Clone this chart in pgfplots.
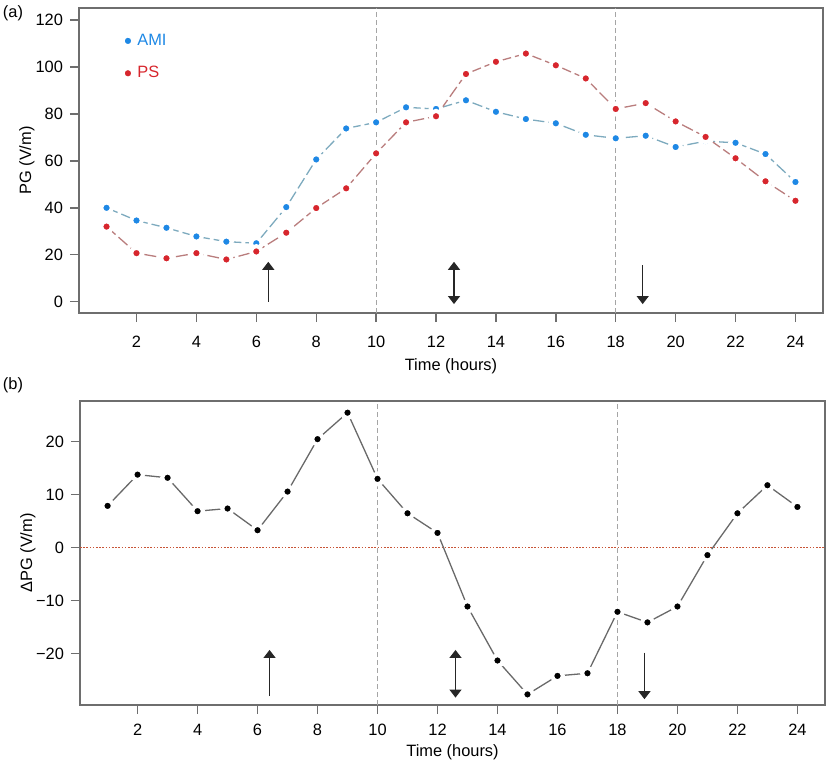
\documentclass[border=0pt]{standalone}
\usepackage{pgfplots}
\pgfplotsset{compat=1.18}
\usepackage{fontspec}
\setmainfont{Liberation Sans}
\usetikzlibrary{arrows.meta}
\definecolor{amiblue}{RGB}{30,136,229}
\definecolor{amiline}{RGB}{125,170,190}
\definecolor{psred}{RGB}{215,38,45}
\definecolor{psline}{RGB}{185,125,125}
\definecolor{vgray}{RGB}{165,165,165}
\definecolor{frame}{RGB}{110,110,110}
\definecolor{zeroc}{RGB}{200,85,55}
\definecolor{dline}{RGB}{105,105,105}
\newcommand{\fs}{\fontsize{8.2}{9.8}\selectfont}
\pgfplotsset{
  common/.style={
    scale only axis,
    xmin=0.08, xmax=24.92,
    xtick={2,4,...,24},
    xtick pos=bottom, ytick pos=left,
    tick align=outside,
    major tick length=4.5pt,
    axis line style={draw=frame, line width=0.7pt},
    tick style={draw=frame, line width=0.7pt},
    tick label style={font=\fs},
    label style={font=\fs},
    /pgf/number format/assume math mode=true,
    ylabel style={at={(axis description cs:-0.07,0.5)}, anchor=center},
  },
}
\tikzset{
  vline/.style={vgray, line width=0.6pt, dash pattern=on 2.5pt off 1.5pt},
  arr/.style={black!85, line width=0.6pt},
}
\begin{document}
\begin{tikzpicture}
\path[use as bounding box] (0,0) rectangle (414.5pt,-381pt);
\node[font=\fs] at (6.5pt,-6.5pt) {(a)};
\node[font=\fs] at (6.5pt,-192.5pt) {(b)};
% Panel (a)
\begin{axis}[common,
  at={(39.5pt,-4pt)}, anchor=north west,
  width=372pt, height=152.5pt,
  ymin=-4.8, ymax=125.1,
  ytick={0,20,...,120},
  xticklabel style={yshift=-3.5pt},
  ylabel={PG (V/m)},
  xlabel={Time (hours)},
  xlabel style={at={(axis description cs:0.5,0)}, anchor=center, yshift=-26.5pt},
  legend style={draw=none, fill=none, at={(axis description cs:0.058,0.93)}, anchor=north west, font=\fs, row sep=5pt, inner sep=0pt},
  legend cell align=left,
  legend image code/.code={\draw[#1] plot coordinates {(0pt,0pt)};},
]
\draw[vline] (axis cs:10,-4.8) -- (axis cs:10,125.1);
\draw[vline] (axis cs:18,-4.8) -- (axis cs:18,125.1);
\addplot[color=amiline, line width=0.65pt, dash pattern=on 6pt off 2pt, mark=*, mark size=2.7pt,
  mark options={solid, fill=amiblue, draw=white, line width=2pt}] coordinates {
(1,40.0) (2,34.6) (3,31.5) (4,27.8) (5,25.6) (6,24.9) (7,40.3) (8,60.6) (9,73.8) (10,76.4) (11,82.8) (12,82.1)
(13,85.8) (14,80.9) (15,77.8) (16,76.0) (17,71.1) (18,69.6) (19,70.7) (20,65.9) (21,68.4) (22,67.7) (23,62.9) (24,51.0)};
\addlegendentry{\textcolor{amiblue}{AMI}}
\addplot[color=psline, line width=0.65pt, dash pattern=on 6pt off 2pt, mark=*, mark size=2.7pt,
  mark options={solid, fill=psred, draw=white, line width=2pt}] coordinates {
(1,32.0) (2,20.7) (3,18.5) (4,20.7) (5,18.0) (6,21.4) (7,29.4) (8,39.9) (9,48.3) (10,63.2) (11,76.4) (12,79.0)
(13,97.0) (14,102.2) (15,105.7) (16,100.7) (17,95.1) (18,82.1) (19,84.6) (20,76.8) (21,70.2) (22,61.1) (23,51.3) (24,43.0)};
\addlegendentry{\textcolor{psred}{PS}}
\draw[arr, -{Triangle[width=6pt,length=4pt]}] (axis cs:6.4,0) -- (axis cs:6.4,17);
\draw[arr, {Triangle[width=6pt,length=4pt]}-{Triangle[width=6pt,length=4pt]}] (axis cs:12.6,-1) -- (axis cs:12.6,17);
\draw[arr, -{Triangle[width=6pt,length=4pt]}] (axis cs:18.9,15.5) -- (axis cs:18.9,-1);
\end{axis}
% Panel (b)
\begin{axis}[common,
  at={(40pt,-200.5pt)}, anchor=north west,
  width=372.5pt, height=152pt,
  ymin=-29.7, ymax=27.7,
  ytick={-20,-10,0,10,20},
  yticklabels={−20,−10,0,10,20},
  xticklabel style={yshift=-1.5pt},
  ylabel={ΔPG (V/m)},
  xlabel={Time (hours)},
  xlabel style={at={(axis description cs:0.5,0)}, anchor=center, yshift=-23.5pt},
]
\draw[vline] (axis cs:10,-29.7) -- (axis cs:10,27.7);
\draw[vline] (axis cs:18,-29.7) -- (axis cs:18,27.7);
\draw[zeroc, line width=0.75pt, dash pattern=on 0.8pt off 0.8pt] (axis cs:0.08,0) -- (axis cs:24.92,0);
\addplot[color=dline, line width=0.65pt, mark=*, mark size=2.7pt,
  mark options={solid, fill=black, draw=white, line width=2pt}] coordinates {
(1,7.9) (2,13.8) (3,13.2) (4,6.9) (5,7.4) (6,3.3) (7,10.6) (8,20.5) (9,25.5) (10,13.0) (11,6.5) (12,2.8)
(13,-11.1) (14,-21.3) (15,-27.7) (16,-24.2) (17,-23.7) (18,-12.1) (19,-14.1) (20,-11.1) (21,-1.4) (22,6.5) (23,11.8) (24,7.7)};
\draw[arr, -{Triangle[width=6pt,length=4pt]}] (axis cs:6.4,-28) -- (axis cs:6.4,-19.3);
\draw[arr, {Triangle[width=6pt,length=4pt]}-{Triangle[width=6pt,length=4pt]}] (axis cs:12.6,-28.3) -- (axis cs:12.6,-19.3);
\draw[arr, -{Triangle[width=6pt,length=4pt]}] (axis cs:18.9,-19.8) -- (axis cs:18.9,-28.6);
\end{axis}
\end{tikzpicture}
\end{document}
